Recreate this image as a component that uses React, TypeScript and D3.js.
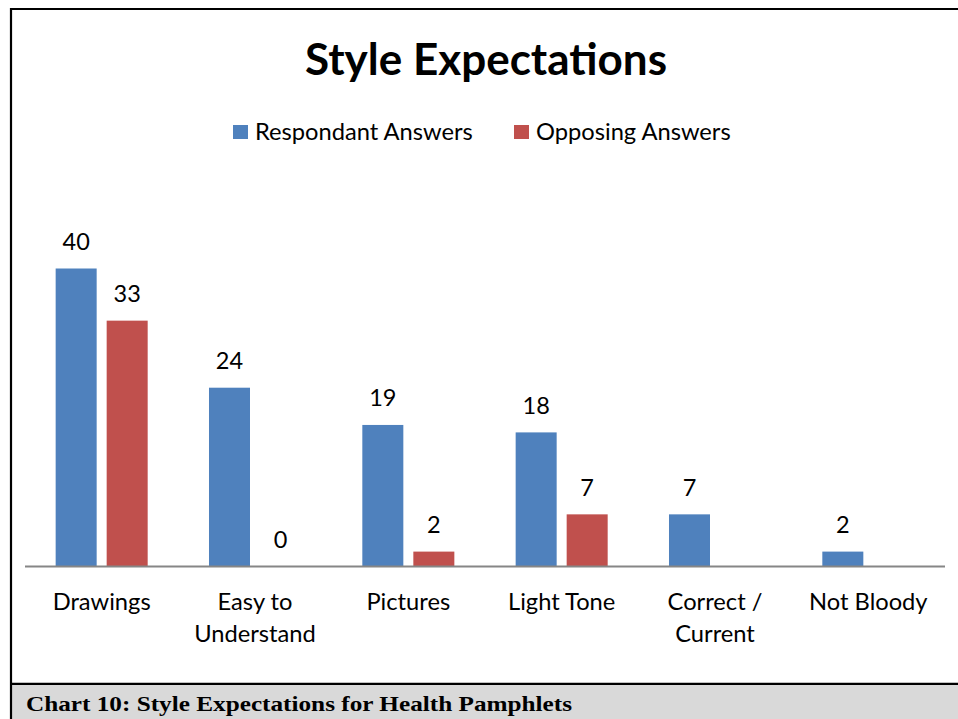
import React, { useEffect, useRef } from "react";
import * as d3 from "d3";

const categories: string[][] = [
  ["Drawings"],
  ["Easy to", "Understand"],
  ["Pictures"],
  ["Light Tone"],
  ["Correct /", "Current"],
  ["Not Bloody"],
];
const seriesNames = ["Respondant Answers", "Opposing Answers"];
const respondant: (number | null)[] = [40, 24, 19, 18, 7, 2];
const opposing: (number | null)[] = [33, 0, 2, 7, null, null];
const colors = ["#4F81BD", "#C0504D"];
const title = "Style Expectations";
const caption = "Chart 10: Style Expectations for Health Pamphlets";

const W = 958;
const H = 719;
const FONT = "Lato, Carlito, Calibri, sans-serif";

export default function App() {
  const ref = useRef<SVGSVGElement | null>(null);

  useEffect(() => {
    document.body.style.margin = "0";
    const svg = d3.select(ref.current);
    svg.selectAll("*").remove();

    // background
    svg.append("rect").attr("x", 0).attr("y", 0).attr("width", W).attr("height", H).attr("fill", "#fff");

    // caption box
    svg.append("rect").attr("x", 11).attr("y", 684).attr("width", W - 11).attr("height", H - 684).attr("fill", "#D9D9D9");
    svg.append("line").attr("x1", 10).attr("x2", W).attr("y1", 683.8).attr("y2", 683.8).attr("stroke", "#000").attr("stroke-width", 2.2);
    // border
    svg.append("line").attr("x1", 10).attr("x2", W).attr("y1", 9).attr("y2", 9).attr("stroke", "#000").attr("stroke-width", 2.2);
    svg.append("line").attr("x1", 11).attr("x2", 11).attr("y1", 8).attr("y2", H).attr("stroke", "#000").attr("stroke-width", 2.2);

    svg.append("text")
      .attr("x", 26).attr("y", 711)
      .attr("font-family", "'Liberation Serif', 'DejaVu Serif', serif")
      .attr("font-weight", "bold")
      .attr("font-size", 22)
      .attr("textLength", 546)
      .attr("lengthAdjust", "spacingAndGlyphs")
      .attr("fill", "#000")
      .text(caption);

    // title
    svg.append("text")
      .attr("x", 486).attr("y", 75)
      .attr("text-anchor", "middle")
      .attr("font-family", FONT)
      .attr("font-weight", "bold")
      .attr("font-size", 44)
      .attr("fill", "#000")
      .text(title);

    // legend
    const legendX = [233, 514];
    seriesNames.forEach((name, i) => {
      const g = svg.append("g").attr("transform", `translate(${legendX[i]},0)`);
      g.append("rect").attr("x", 0).attr("y", 125).attr("width", 15).attr("height", 14).attr("fill", colors[i]);
      g.append("text").attr("x", 22).attr("y", 140)
        .attr("font-family", FONT).attr("font-size", 23.7).attr("fill", "#000").text(name);
    });

    // scales
    const idx = categories.map((_, i) => String(i));
    const x0 = d3.scaleBand<string>().domain(idx).range([25, 945]).padding(0);
    const x1 = d3.scaleBand<string>().domain(["0", "1"]).range([0, x0.bandwidth()])
      .paddingInner(10 / 51).paddingOuter(0.601);
    const y = d3.scaleLinear().domain([0, 45]).range([566.5, 231.25]);

    const series = [respondant, opposing];
    series.forEach((vals, si) => {
      vals.forEach((v, ci) => {
        if (v === null) return;
        const bx = (x0(String(ci)) as number) + (x1(String(si)) as number);
        const bw = x1.bandwidth();
        svg.append("rect")
          .attr("x", bx).attr("y", y(v)).attr("width", bw).attr("height", y(0) - y(v))
          .attr("fill", colors[si]);
        svg.append("text")
          .attr("x", bx + bw / 2).attr("y", y(v) - 18.5)
          .attr("text-anchor", "middle")
          .attr("font-family", FONT).attr("font-size", 23.5).attr("fill", "#000")
          .text(String(v));
      });
    });

    // axis line
    svg.append("line").attr("x1", 25).attr("x2", 945).attr("y1", y(0)).attr("y2", y(0))
      .attr("stroke", "#868686").attr("stroke-width", 2);

    // category labels
    categories.forEach((lines, ci) => {
      const cx = (x0(String(ci)) as number) + x0.bandwidth() / 2;
      const t = svg.append("text").attr("text-anchor", "middle")
        .attr("font-family", FONT).attr("font-size", 23.7).attr("fill", "#000");
      lines.forEach((ln, li) => {
        t.append("tspan").attr("x", cx).attr("y", 610 + li * 31.5).text(ln);
      });
    });
  }, []);

  return <svg ref={ref} width={W} height={H} style={{ display: "block" }} />;
}
